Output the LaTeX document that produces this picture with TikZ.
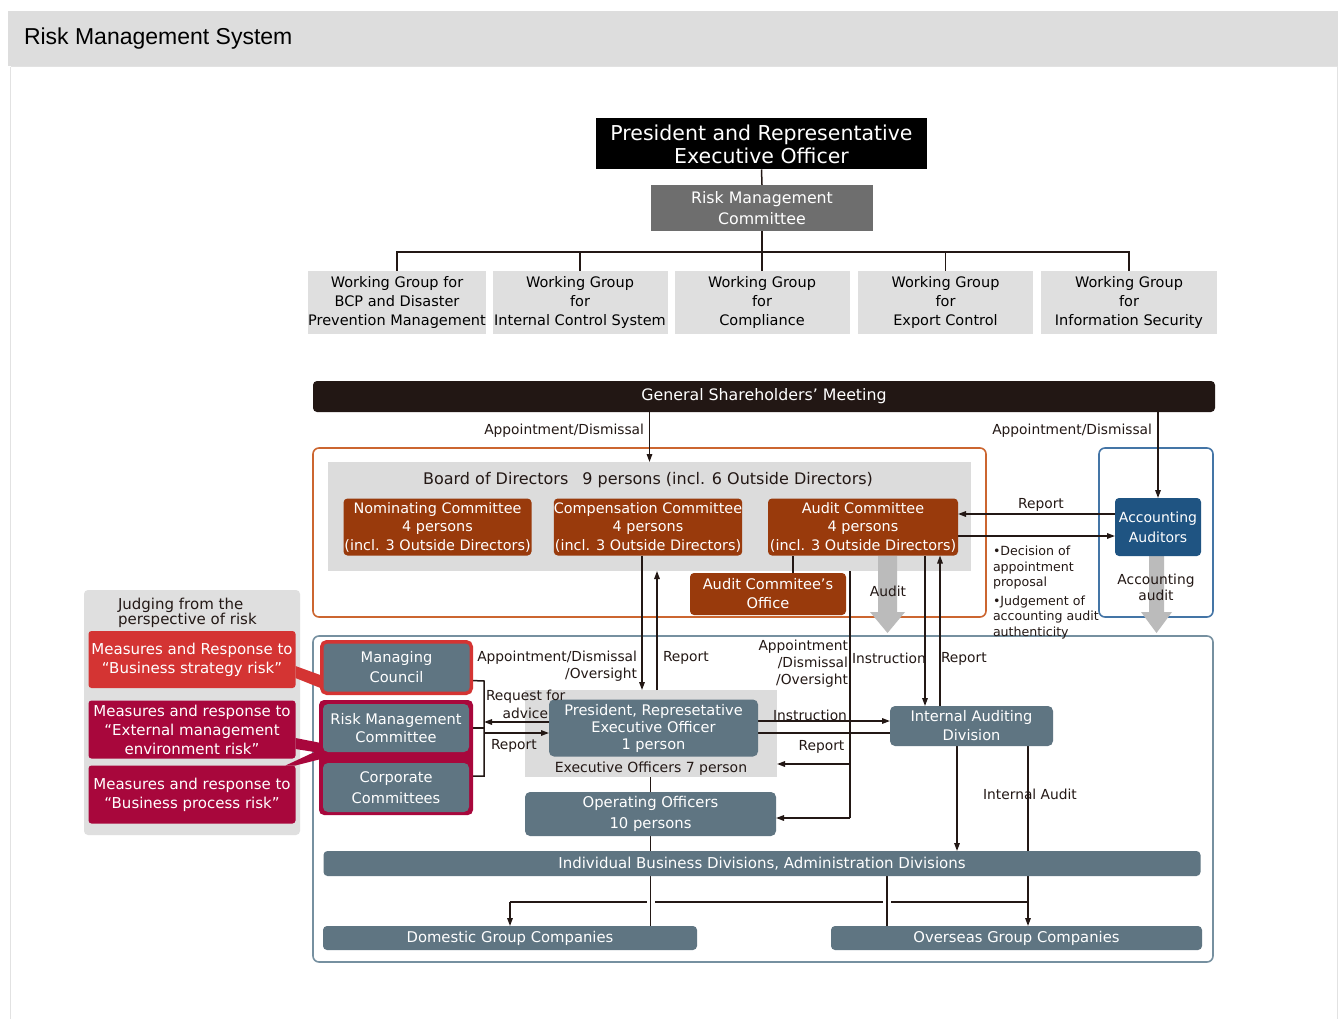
\documentclass[tikz,border=0pt]{standalone}
\usepackage{fontspec}
\setmainfont{DejaVu Sans}
\newfontfamily\titlefont{Liberation Sans}
\usetikzlibrary{arrows.meta}
\pgfdeclarelayer{back}
\pgfdeclarelayer{conn}
\pgfsetlayers{back,conn,main}
\definecolor{slate}{HTML}{5F7582}
\definecolor{brn}{HTML}{993A0C}
\definecolor{orng}{HTML}{CC6630}
\definecolor{blueol}{HTML}{4475A6}
\definecolor{aablue}{HTML}{1F5482}
\definecolor{slateol}{HTML}{7690A0}
\definecolor{redbx}{HTML}{D43433}
\definecolor{crim}{HTML}{A8073C}
\definecolor{ink}{HTML}{231815}
\definecolor{wg}{HTML}{DFDFDF}
\definecolor{boardbg}{HTML}{DCDCDC}
\definecolor{rmcgray}{HTML}{6E6E6E}
\definecolor{hdr}{HTML}{DDDDDD}
\definecolor{garrow}{HTML}{BBBBBB}
\definecolor{panelline}{HTML}{E2E2E2}
\definecolor{gsmc}{HTML}{221714}
\newcommand\fs[2]{\fontsize{#1}{#2}\selectfont}
\begin{document}
\begin{tikzpicture}[x=1pt,y=-1pt,
  every node/.style={inner sep=0pt, outer sep=0pt, align=center, text=ink, font=\fs{13.8}{17}},
  ln/.style={draw=ink, line width=1.5pt},
  arr/.style={ln, -{Triangle[length=8pt,width=5.5pt]}},
  wgbox/.style={fill=wg, minimum width=175pt, minimum height=63pt, font=\fs{14.5}{19}, text=black},
  brownbox/.style={fill=brn, rounded corners=4pt, text=white, font=\fs{14.4}{18.5}},
  slatebox/.style={fill=slate, rounded corners=5pt, text=white, font=\fs{14.6}{19}},
  redbox/.style={rounded corners=3pt, text=white, font=\fs{15}{19}, minimum width=207pt},
  lbl/.style={font=\fs{13.8}{17}, yshift=-1.5pt}
]
\useasboundingbox (0,0) rectangle (1341,1019);
\begin{pgfonlayer}{back}
  \fill[white] (0,0) rectangle (1341,1019);
  \fill[hdr] (8,11) rectangle (1338,66);
  \draw[panelline, line width=1.5pt] (10.5,67) -- (10.5,1019) (1337.5,67) -- (1337.5,1019);
  \draw[panelline, line width=1pt] (10.5,67) -- (1337.5,67);
  \draw[orng, line width=1.6pt, rounded corners=6pt] (313,448) rectangle (986,617);
  \draw[blueol, line width=1.6pt, rounded corners=6pt] (1099,448) rectangle (1213,617);
  \draw[slateol, line width=1.6pt, rounded corners=6pt] (313,636) rectangle (1213,962);
  \node[fill=boardbg, minimum width=643pt, minimum height=109pt] (board) at (649.5,516.5) {};
  \node[fill=boardbg, minimum width=252pt, minimum height=87pt] (exb) at (651,733.5) {};
  \node[fill=wg, rounded corners=4pt, minimum width=216pt, minimum height=245pt] (judge) at (192,712.5) {};
\end{pgfonlayer}

% title
\node[anchor=west, font=\titlefont\fs{23}{23}, text=black] (title) at (24,39) {Risk Management System};

% top section
\node[fill=black, text=white, minimum width=331pt, minimum height=51pt, font=\fs{20.5}{23}] (pres) at (761.5,144) {President and Representative\\Executive Officer};
\node[fill=rmcgray, text=white, minimum width=222pt, minimum height=46pt, font=\fs{15.8}{21}] (rmc) at (762,208) {Risk Management\\Committee};
\node[wgbox] (wg1) at (397,302.5) {Working Group for\\BCP and Disaster\\Prevention Management};
\node[wgbox] (wg2) at (580,302.5) {Working Group\\for\\Internal Control System};
\node[wgbox] (wg3) at (762,302.5) {Working Group\\for\\Compliance};
\node[wgbox] (wg4) at (945.5,302.5) {Working Group\\for\\Export Control};
\node[wgbox, minimum width=176pt] (wg5) at (1129,302.5) {Working Group\\for\\Information Security};

% governance
\node[fill=gsmc, rounded corners=4pt, text=white, minimum width=902pt, minimum height=31pt, font=\fs{15.8}{16}] (gsm) at (764,396.5) {General Shareholders' Meeting};
\node[font=\fs{16}{16}, yshift=-1.5pt] (boardt) at (648,479) {Board of Directors\hspace{9pt} 9 persons (incl. 6 Outside Directors)};
\node[brownbox, minimum width=188pt, minimum height=57pt] (nom) at (437.5,527) {Nominating Committee\\4 persons\\(incl. 3 Outside Directors)};
\node[brownbox, minimum width=188pt, minimum height=57pt] (comp) at (648,527) {Compensation Committee\\4 persons\\(incl. 3 Outside Directors)};
\node[brownbox, minimum width=190pt, minimum height=57pt] (audc) at (863,527) {Audit Committee\\4 persons\\(incl. 3 Outside Directors)};
\node[brownbox, minimum width=156pt, minimum height=42pt, font=\fs{14.6}{19}] (office) at (768,594) {Audit Commitee's\\Office};
\node[fill=aablue, rounded corners=4pt, text=white, minimum width=86pt, minimum height=58pt, font=\fs{14}{20}] (aa) at (1158,527) {Accounting\\Auditors};

\node[lbl, anchor=east] (lad1) at (644,429) {Appointment/Dismissal};
\node[lbl, anchor=east] (lad2) at (1152,429) {Appointment/Dismissal};
\node[lbl] (lrep1) at (1041,503) {Report};
\node[anchor=north west, align=left, font=\fs{12.6}{15.5}] (bul) at (993,546) {•Decision of\\appointment\\proposal\\[3pt]•Judgement of\\accounting audit\\authenticity};
\node[lbl] (laud) at (888,590) {Audit};
\node[lbl, font=\fs{13.8}{16}] (lacc) at (1156,586) {Accounting\\audit};

% left panel
\node[anchor=west, align=left, font=\fs{15}{15}] (judget) at (118,613) {Judging from the\\perspective of risk};
\node[redbox, fill=redbx, minimum height=57pt] (r1) at (192,659.5) {Measures and Response to\\“Business strategy risk”};
\node[redbox, fill=crim, minimum height=58pt] (r2) at (192,729.5) {Measures and response to\\“External management\\environment risk”};
\node[redbox, fill=crim, minimum height=58pt] (r3) at (192,794.5) {Measures and response to\\“Business process risk”};

% executive side
\node[fill=slate, draw=redbx, line width=3.5pt, rounded corners=5pt, minimum width=149.5pt, minimum height=51.5pt, text=white, font=\fs{14.6}{20}] (mc) at (396.5,667.5) {Managing\\Council};
\node[fill=crim, rounded corners=5pt, minimum width=154pt, minimum height=115pt] (rcont) at (396,757.5) {};
\node[slatebox, minimum width=146pt, minimum height=48pt, font=\fs{14.6}{18}] (rmc2) at (396,728) {Risk Management\\Committee};
\node[slatebox, minimum width=146pt, minimum height=49pt, font=\fs{14.6}{21}] (corp) at (396,787.5) {Corporate\\Committees};

\node[slatebox, minimum width=209pt, minimum height=57pt, font=\fs{14.6}{17}] (pce) at (653.5,728) {President, Represetative\\Executive Officer\\1 person};
\node[font=\fs{14}{14}, yshift=-1.5pt] (exo) at (651,767) {Executive Officers 7 person};
\node[slatebox, minimum width=251pt, minimum height=44pt, font=\fs{14.8}{21}] (opo) at (650.5,814) {Operating Officers\\10 persons};
\node[slatebox, minimum width=163pt, minimum height=40pt] (iad) at (971.5,726) {Internal Auditing\\Division};
\node[slatebox, rounded corners=4pt, minimum width=877pt, minimum height=25pt, font=\fs{15}{15}] (biz) at (762,863.5) {Individual Business Divisions, Administration Divisions};
\node[slatebox, rounded corners=4pt, minimum width=374pt, minimum height=24pt, font=\fs{14.8}{15}] (dom) at (510,938) {Domestic Group Companies};
\node[slatebox, rounded corners=4pt, minimum width=371pt, minimum height=24pt, font=\fs{14.8}{15}] (ovs) at (1016.5,938) {Overseas Group Companies};

% labels lower
\node[lbl, anchor=east, align=right] (l3) at (637,664.5) {Appointment/Dismissal\\/Oversight};
\node[lbl, anchor=west] (l4) at (663,656) {Report};
\node[lbl, anchor=east, align=right] (l5) at (848,662) {Appointment\\/Dismissal\\/Oversight};
\node[lbl, anchor=west] (l6) at (852,657) {Instruction};
\node[lbl, anchor=west] (l7) at (941,657) {Report};
\node[lbl] (l8) at (810,714) {Instruction};
\node[lbl] (l9) at (821.5,745) {Report};
\node[lbl, anchor=west] (l10) at (486,695) {Request for};
\node[lbl, anchor=east] (l11) at (548,712) {advice};
\node[lbl, anchor=west] (l12) at (491,744) {Report};
\node[lbl] (l13) at (1030,793) {Internal Audit};

\coordinate (bt) at (484,681);
\coordinate (bb) at (484,776);
\coordinate (ao) at (850,571);
\coordinate (aom) at (850,764);
\coordinate (aob) at (850,818);
\coordinate (brR) at (1028,902);
\coordinate (brL) at (510,902);

\begin{pgfonlayer}{conn}
  % top tree
  \draw[ln] (pres.south) -- (rmc.north);
  \draw[ln] (rmc.south) -- (rmc.south |- 0,252);
  \draw[ln] (wg1.north) -- ++(0,-19) -| (wg5.north);
  \draw[ln] (wg2.north) -- ++(0,-19);
  \draw[ln] (wg3.north) -- ++(0,-19);
  \draw[ln] (wg4.north) -- ++(0,-19);
  % shareholders
  \draw[arr] (gsm.south -| board.north) -- (board.north);
  \draw[arr] (gsm.south -| aa.north) -- (aa.north);
  \draw[arr] ([yshift=13pt]aa.west) -- ([yshift=13pt]aa.west -| audc.east);
  \draw[arr] ([yshift=-9pt]audc.east) -- ([yshift=-9pt]audc.east -| aa.west);
  \draw[ln] (office.north -| 793,0) -- (audc.south -| 793,0);
  % big grey arrows
  \fill[garrow] (878,556) -- (897,556) -- (897,612) -- (905,612) -- (887.5,633) -- (870,612) -- (878,612) -- cycle;
  \fill[garrow] (1149,556) -- (1164,556) -- (1164,612) -- (1172,612) -- (1156.5,633) -- (1141,612) -- (1149,612) -- cycle;
  % risk connectors
  \fill[redbx] (r1.east |- 0,666) -- (r1.east |- 0,678) -- (323,689) -- (323,676) -- cycle;
  \fill[crim] (r2.east |- 0,738) -- (r2.east |- 0,749) -- (321,753) -- (321,743) -- cycle;
  \fill[crim] (r3.north east) -- ([xshift=-10pt]r3.north east) -- (321,749) -- (321,759) -- cycle;
  % bracket
  \draw[ln] ([yshift=-13pt]mc.east) -- (bt) -- (bb) -- ([yshift=11.5pt]corp.east);
  \draw[ln] (rmc2.east) -- (rmc2.east -| bt);
  \draw[arr] ([yshift=6pt]pce.west) -- ([yshift=6pt]pce.west -| bt);
  \draw[arr] ([yshift=-5pt]pce.west -| bt) -- ([yshift=-5pt]pce.west);
  % board to executives
  \draw[arr] ([xshift=-6pt]comp.south) -- ([xshift=-6pt]comp.south |- exb.north);
  \draw[arr] ([xshift=9pt]comp.south |- exb.north) -- ([xshift=9pt]comp.south |- board.south);
  \draw[ln] (ao) -- (aob);
  \draw[arr] (aom) -- (aom -| exb.east);
  \draw[arr] (aob) -- (aob -| opo.east);
  \draw[arr] ([xshift=62pt]audc.south) -- ([xshift=62pt]audc.south |- iad.north);
  \draw[arr] ([xshift=77pt]audc.south |- iad.north) -- ([xshift=77pt]audc.south);
  \draw[arr] ([yshift=7pt]pce.east) -- ([yshift=7pt]pce.east -| iad.west);
  \draw[ln] ([yshift=-5pt]pce.east) -- ([yshift=-5pt]pce.east -| iad.west);
  % lower flows
  \draw[ln] (exb.south -| opo.north) -- (opo.north);
  \draw[ln] (opo.south) -- (opo.south |- biz.north);
  \draw[arr] ([xshift=-14.5pt]iad.south) -- ([xshift=-14.5pt]iad.south |- biz.north);
  \draw[arr] ([xshift=56.5pt]iad.south) -- ([xshift=56.5pt]iad.south |- ovs.north);
  \draw[ln] (brR) -- (brL);
  \draw[arr] (brL) -- (brL |- dom.north);
  \draw[ln, preaction={draw=white, line width=8pt}] (biz.south -| opo.south) -- (opo.south |- dom.north);
  \draw[ln, preaction={draw=white, line width=8pt}] ([xshift=56pt]ovs.north west |- biz.south) -- ([xshift=56pt]ovs.north west);
\end{pgfonlayer}
\end{tikzpicture}
\end{document}
